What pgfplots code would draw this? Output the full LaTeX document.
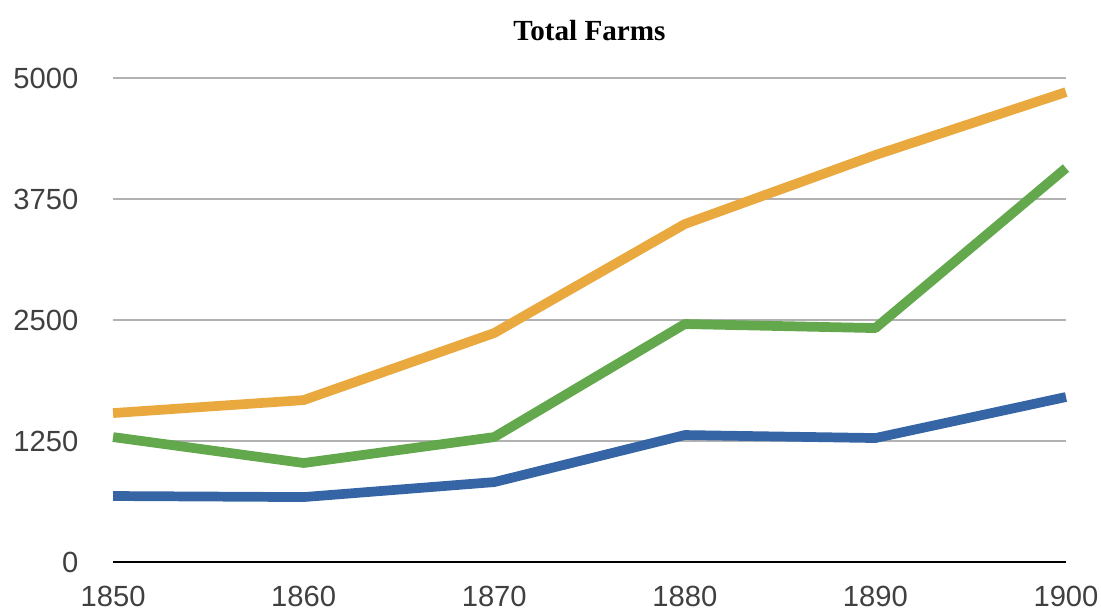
\documentclass[border=0pt]{standalone}
\usepackage{pgfplots}
\pgfplotsset{compat=1.18}
\usepackage{fontspec}
\setmainfont{Liberation Sans}
\newfontfamily\titlefont{Liberation Serif}

\definecolor{farmOrange}{RGB}{233,169,63}
\definecolor{farmGreen}{RGB}{99,168,76}
\definecolor{farmBlue}{RGB}{53,101,165}

\begin{document}
\begin{tikzpicture}
  \begin{axis}[
    scale only axis,
    width=343pt, height=174.2pt,
    xmin=1850, xmax=1900,
    ymin=0, ymax=5000,
    axis line style={draw=none},
    xtick={1850,1860,1870,1880,1890,1900},
    ytick={0,1250,2500,3750,5000},
    xticklabel style={yshift=-5pt},
    yticklabel style={xshift=-9pt},
    xticklabels={1850,1860,1870,1880,1890,1900},
    yticklabels={0,1250,2500,3750,5000},
    tick style={draw=none},
    ticklabel style={font=\fontsize{10.5}{12}\selectfont, text=black!75},
    ymajorgrids,
    grid style={line width=0.7pt, color=black!30},
    title={\titlefont\bfseries Total Farms},
    title style={font=\fontsize{10.5}{12}\selectfont, yshift=4pt},
    clip=false,
    ]
    % baseline at zero
    \addplot[black, line width=1pt, forget plot] coordinates {(1850,0) (1900,0)};

    % orange series
    \addplot[farmOrange, line width=3.5pt, line join=round] coordinates {
      (1850,1539) (1860,1673) (1870,2366) (1880,3492) (1890,4205) (1900,4855)
    };
    % green series
    \addplot[farmGreen, line width=3.5pt, line join=round] coordinates {
      (1850,1291) (1860,1023) (1870,1291) (1880,2459) (1890,2417) (1900,4070)
    };
    % blue series
    \addplot[farmBlue, line width=3.5pt, line join=round] coordinates {
      (1850,682) (1860,671) (1870,826) (1880,1312) (1890,1281) (1900,1705)
    };
  \end{axis}
  \pgfresetboundingbox
  \path (-40.7pt,-17.6pt) rectangle (355.6pt,202.3pt);
\end{tikzpicture}
\end{document}
